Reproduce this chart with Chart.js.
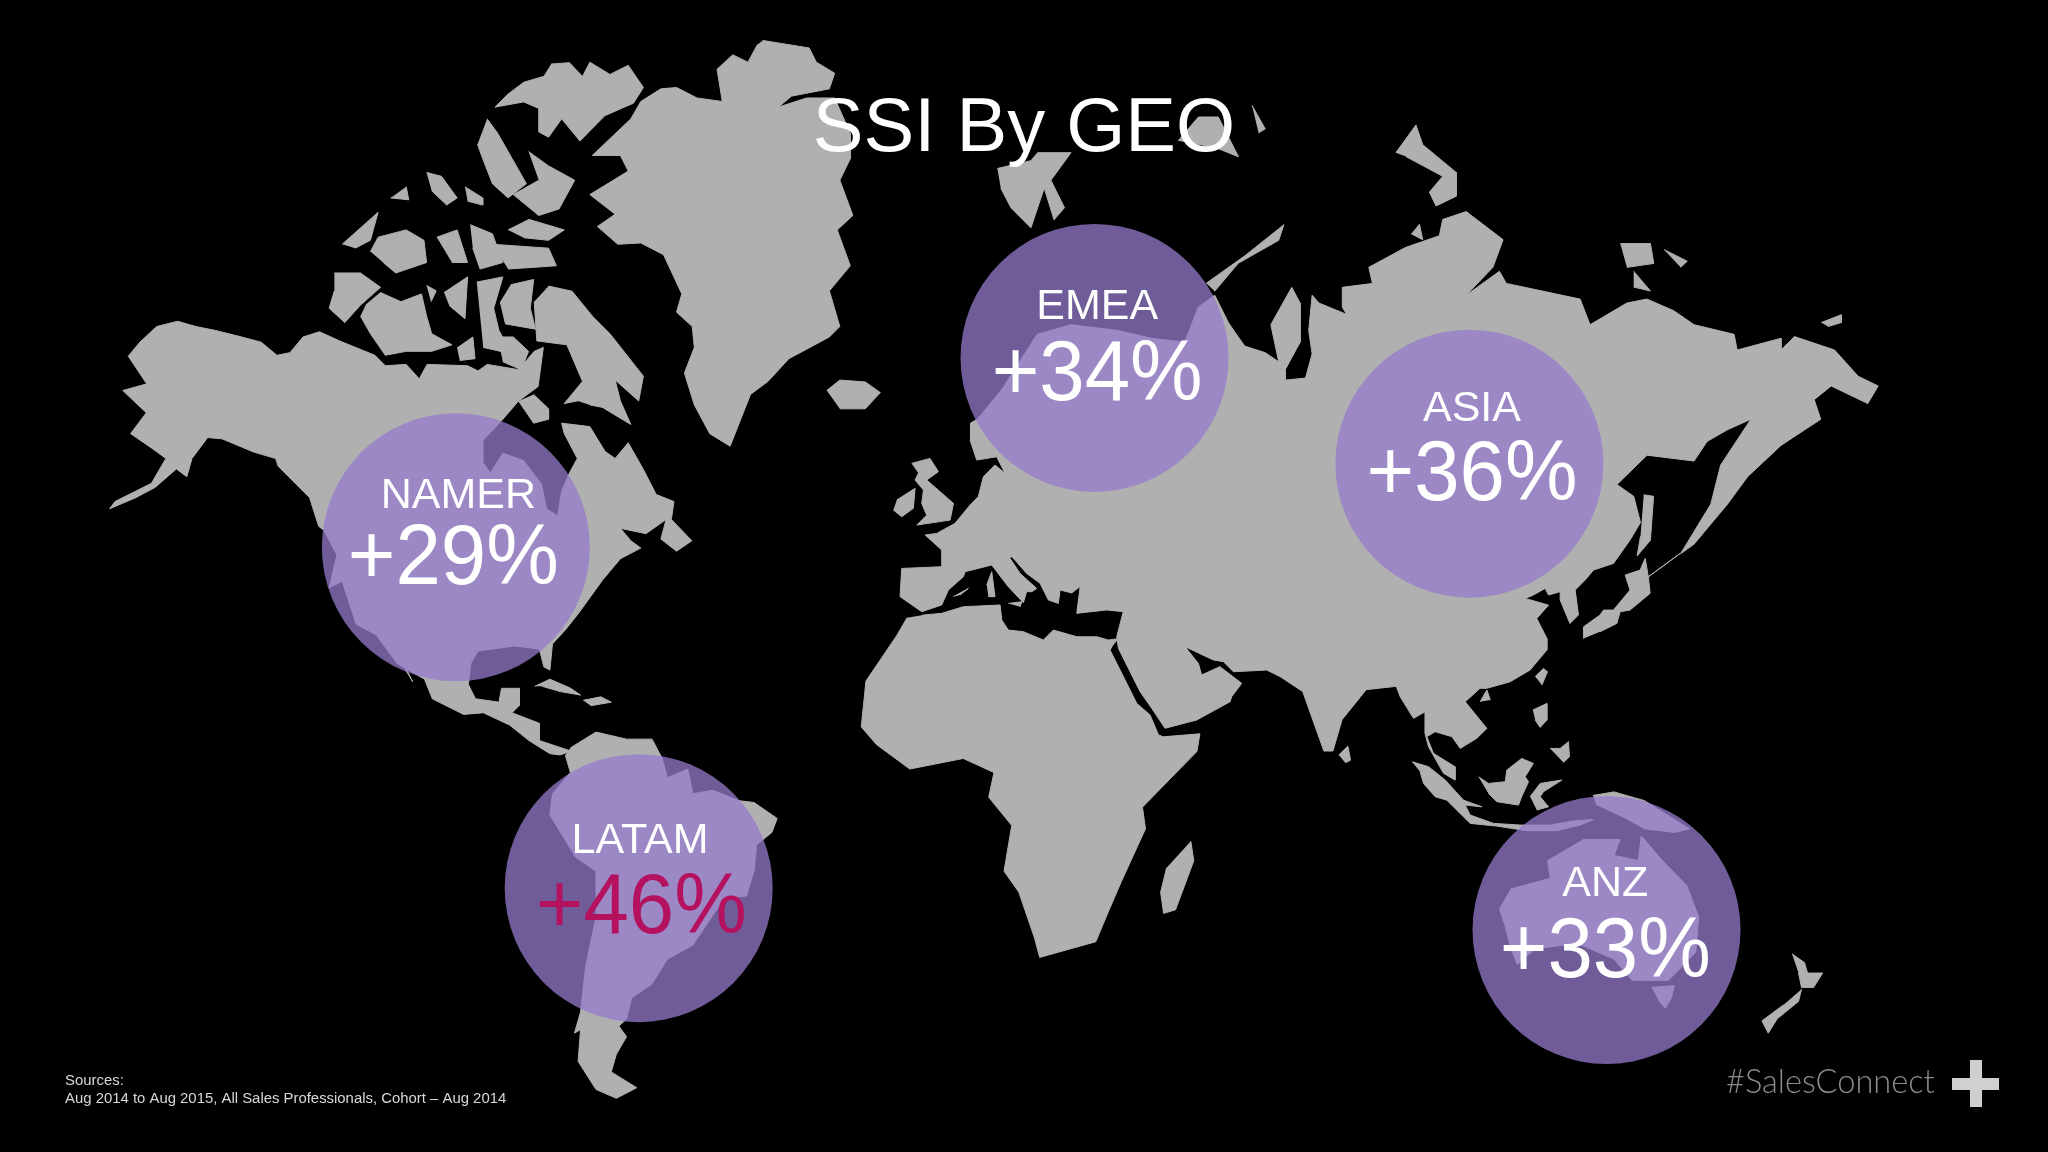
<!DOCTYPE html>
<html>
<head>
<meta charset="utf-8">
<title>SSI By GEO</title>
<style>
  html, body { margin: 0; background: #000; }
  canvas { display: block; }
</style>
</head>
<body>
<canvas id="grafico" width="2048" height="1152"></canvas>
<script src="https://cdn.jsdelivr.net/npm/chart.js@4"></script>
<script>
const regionNames = ['NAMER', 'EMEA', 'ASIA', 'LATAM', 'ANZ'];
const regionGains = [29, 34, 36, 46, 33];
const regionX = [349, 838, 1125, 489, 1230];
const regionY = [419, 274, 355, 680, 712];

// coastlines on a 1568 x 882 grid
const northAmerica = [[98,273],[107,262],[120,250],[136,246],[150,250],[165,253],[185,258],[200,262],[212,272],[222,270],[232,258],[244.6,254],[260,261],[287,272],[295,280],[311,279],[321,290],[327,279],[358,280],[366,284],[373,279],[397,283],[409,269],[416,266],[412,296],[397,307],[385,321],[369.6,337.5],[369.6,354],[375.4,362],[385,347],[400.8,352.6],[414.5,370.3],[418.4,389.5],[427,395],[430,376],[436,362],[442,351],[432,332],[430,324],[451.6,326.6],[463.3,345.7],[471,351],[481,339],[492.6,359.4],[502.4,378.6],[516,384],[514,397.7],[529.7,414],[518,422],[506,412.7],[510,397.7],[494.6,408.6],[475,404.5],[483,414],[490.6,419.6],[475,427.8],[461.4,444],[442.6,470],[432.8,482.3],[423,493],[421,513],[416.4,510.6],[413,497],[394,494.5],[366,498.5],[360.5,508],[358.6,524],[364,535],[382,537.6],[384,527],[397.7,527],[397.7,540],[392,545.7],[413,553.8],[413,567],[437,575],[429,578],[421,577],[405,567],[390,555],[370,545.7],[355,547],[331,535],[325,520],[304,508],[288,486],[272.7,478],[262,445],[252,450],[258,425],[248,406],[244,403],[237,381],[213,357],[211,351],[194,346],[170,336],[159,335],[147,351],[143,365],[135,359],[119,373],[104,381],[84,389.5],[88,384],[116,370],[127,351],[116,343],[100,332],[112,316],[94,299],[112,294]];
const baja = [[296,490.4],[300,490],[316,522],[310,512]];
const southAmerica = [[436.7,572.6],[456.3,560.5],[479.7,565.9],[499.2,565.9],[507,580.7],[511,595.5],[526.6,588.8],[530.5,607.7],[546,605],[565.6,613],[577.3,614.4],[595,626.6],[591,637.3],[579.3,646.8],[577.3,667],[571.5,685.9],[553.9,688.6],[530.5,723.6],[511,734.4],[499.2,753.3],[483.6,764],[479.7,780.2],[473.8,785.6],[479.7,793.7],[471.9,807.2],[468,820.7],[487.5,832.8],[471.9,840.9],[456.3,834.1],[442.6,812.6],[444.5,788.3],[439.8,791],[444.5,774.8],[448.4,739.8],[456.3,702],[456.3,667],[440.6,656.2],[421,623.9],[423,607.7],[436.7,591.5],[432.8,578]];
const cuba = [[409.4,525.5],[421,520],[436.7,526.8],[444.5,532.2],[429,529.5],[415.2,525.5]];
const hispaniola = [[446.5,536.2],[460,533.5],[468,537.6],[452.3,540.3]];
const greenland = [[584,31],[619.5,36.7],[625,47.6],[639,56],[635,68],[606,73.6],[596,82],[617.6,75],[639,75],[651,102],[651,121.5],[643,138],[653,165],[641,176],[651,203.5],[635,222.7],[643,250],[635,258],[604,274.6],[588,292],[574.6,302],[559,341.6],[543.4,332],[531.6,310],[524,285.6],[531.6,266],[530,250],[518,239],[522,225],[508,195],[490.6,186],[473,187],[457.4,173.4],[471,164],[451.6,149],[481,131],[475,119],[453.5,119],[483,91],[490.6,77.7],[506,68],[518,67],[533.6,75],[553,77.7],[549,53],[561,42],[572.6,47.6],[580,34]];
const iceland = [[633,299],[643,291],[662.5,292.4],[674,300.6],[662.5,313],[643,313]];
const baffin = [[420,219],[438,223],[453.5,242],[467,255.5],[492.6,288],[489,307],[471,291],[475,307],[483,325],[463,313],[451.6,305],[432,309],[446,292],[434,264],[411,261],[409,231]];
const ellesmere = [[422,49],[436,48],[446,58.5],[451.6,47.6],[467,57],[481,50],[492.6,67],[485,79],[463,88.6],[444,108],[430,91],[420,105],[412.5,101],[412.5,83],[401,78],[379,82],[389,72],[401,63],[416,58.5]];
const axelHeiberg = [[373,91],[381,102],[389,116],[403,140.6],[389,151.5],[377,140.6],[369.6,121.5],[365.6,110.5]];
const devon = [[404.7,116],[420,127],[440,138],[428,160],[412.5,165],[393,149],[412.5,138]];
const arcticA = [[389,176],[405,168],[432,176],[420,184],[401,182]];
const arcticB = [[377,187],[420,190],[426,203.5],[389,206]];
const arcticC = [[326.6,132],[338,135],[350,151.5],[342,157],[330.5,146]];
const arcticD = [[356,143],[369.6,151.5],[369.6,157],[358,154]];
const arcticE = [[311,143],[313,153],[299,151.5]];
const arcticF = [[262,187],[289.5,162.5],[283.6,184],[272,190]];
const arcticG = [[283.6,192.6],[289.5,181.6],[311,176],[324.6,184],[326.6,201],[303,209],[293.4,201]];
const arcticH = [[334.4,181.6],[350,176],[358,201],[346,201]];
const arcticI = [[360,172],[377,179],[385,201],[367.6,206],[362,190]];
const banks = [[256,209],[276,209],[291.4,220],[276,233.6],[264,247],[252,236],[256,222.7]];
const victoria = [[280,233.6],[291.4,224],[307,231],[322.7,225],[326.6,242],[330.5,255.5],[346,264],[330.5,269],[311,269],[295,272],[283.6,255.5],[276,242]];
const arcticJ = [[326.6,218.5],[334,222.7],[330,231]];
const arcticK = [[340,224],[358,212],[356,244],[344,234]];
const arcticL = [[365,216],[385,212],[378,236],[382,253],[392,271],[370,266]];
const arcticM = [[391,218],[408.6,214],[406,236],[410,252],[387,248],[383,231]];
const arcticN = [[436,305],[451.6,291],[461,296.5],[467,313],[451.6,310]];
const southampton = [[408.6,302],[420,313],[420,321],[408.6,324],[397,307]];
const boothia = [[350,266.4],[362,258],[363.7,274.6],[352,276]];
const melville = [[381,258],[393,258],[404.7,269],[399,283],[385,277]];
const eurasia = [[768.7,295.5],[794,256],[820,248.6],[856,253],[881.6,259],[907,262],[917.5,235],[930,226],[940.5,247],[945.7,254.6],[953,265],[968.7,270],[979,277],[973,248.6],[989,220],[995.4,232],[995.4,262],[984,283],[984,291],[999.5,289.5],[1004.6,271],[1002,253],[1004.6,226],[1009.8,232],[1035.4,242.5],[1039,254.6],[1027.7,235],[1027.7,220],[1050.8,217],[1048,204.7],[1076,189.5],[1102,180.5],[1104.6,168],[1122.6,162],[1150.8,183.5],[1143,204.7],[1122.6,226],[1148,207.7],[1153.3,217],[1209.8,229],[1217.4,248.6],[1245.6,232],[1261,229],[1281.6,238],[1297,248.6],[1327.7,256],[1330,268],[1363.6,259],[1363.6,268],[1373.9,257.7],[1404.6,268],[1422.6,288],[1438,295.5],[1430,309],[1402,295.5],[1389,306],[1394,321],[1363.6,341],[1338,365],[1322.6,386],[1297,416.6],[1286.7,424],[1309.8,386],[1317.4,356],[1340.5,321],[1322.6,329],[1307,338],[1297,353],[1261,348.5],[1238,371],[1250.8,380],[1256,400],[1248,413.5],[1235.3,431.4],[1220,436.5],[1213.6,444.1],[1206,451.8],[1208.5,470.9],[1202,477.3],[1194.5,459.4],[1194.5,453],[1185.6,455.6],[1183,450.5],[1174,455.6],[1167.7,458.2],[1176.6,460.7],[1185.6,463.3],[1176.6,473.5],[1184.3,488.8],[1184.3,497.7],[1171.5,513],[1156.2,522],[1138.4,527],[1133.2,527],[1121.8,537.3],[1138.4,557.7],[1130.7,565.3],[1118,573],[1111.6,564],[1098.8,560.2],[1092.4,564],[1097.5,576.8],[1114,587],[1114,597.2],[1105.2,592.1],[1093.7,571.7],[1091,561.5],[1091,545],[1082.2,550],[1072,533.4],[1069,525.5],[1046,528],[1027.5,551],[1020.5,575],[1013.6,575],[997.4,529.5],[980,518],[969.8,513],[944.3,514.3],[936.7,506.6],[929,505.3],[907.3,495.1],[917.5,507.9],[920,516.8],[934,510.4],[950.7,523.2],[943,533.4],[941.8,537.2],[916.2,551.3],[892,557.6],[881.8,542.3],[872.9,529.6],[856.3,496.4],[855,487.5],[860,468.3],[847.3,467],[824.4,469.6],[827,449],[820.5,454],[811.6,451.7],[810.3,462],[802.7,459.4],[796.3,446.6],[786,439],[774.6,426],[773.3,427.5],[781,439],[793.7,450.5],[790,453],[786,453],[783.5,461.4],[772,449.2],[759.3,432.6],[738.9,437.7],[737.6,441.5],[726.1,451.7],[721,463.2],[705.7,468.3],[689.1,456.8],[690.4,435.2],[721,433.9],[721,421.1],[708.3,409.6],[717.2,408.4],[731.2,400.7],[742.7,386.7],[749,380.3],[752.9,365],[761.8,356],[769.5,362.4],[763.1,349.7],[747.8,352.2],[742.7,336.9],[743,324],[748,321]];
const africa = [[705.7,471],[721,469.6],[737.6,464.5],[765.7,463.2],[767,474.7],[772,482.4],[783.5,483.6],[798.8,490],[806.5,482.4],[824.4,487.5],[839.7,487.5],[848.6,490],[856,489],[852,494],[849.9,497.7],[861.4,520.6],[870.3,538.5],[880.5,547.4],[887,562.7],[890.7,564.1],[918.7,561.8],[916.4,575.3],[874.7,618],[877,634.6],[858.5,675],[849.2,696.6],[842.3,713],[839,721],[796,733],[792,718],[780,683],[768.7,667],[774.6,632],[757,610.4],[761,591.5],[737.5,580.7],[696.5,588.8],[671,570],[659.4,556.5],[663,521.4],[686.7,486.4],[694.5,472.9]];
const madagascar = [[911.7,644],[914,659],[900,696.6],[890.9,699.3],[888.6,683.2],[893.2,664.3]];
const britain = [[698,354.8],[712,351],[718.5,361.1],[709.5,367.5],[730,385.4],[727.4,398.2],[701.9,402],[709.5,394.4],[705.7,385.4],[707,375.2],[700.6,367.5],[703.1,362.4]];
const ireland = [[686.6,382.8],[700.6,373.9],[699.3,389.2],[690.4,395.6],[684,390.5]];
const corsica = [[755.5,447.9],[759.3,437.7],[761.8,456.8],[756.7,456.8]];
const balearic = [[730,456.8],[741.4,450.5],[735,455.6]];
const sicily = [[772,462],[782.3,460.7],[781,464.5]];
const svalbard = [[763.6,129],[789.3,123],[794.4,116.9],[820,116.9],[804.6,138],[815,159],[807,168.3],[799.5,144],[789.3,174.4],[774,159],[766.2,144]];
const franzJosef = [[902,107.8],[917.5,89.6],[932.8,89.6],[948.2,120],[932.8,113.8]];
const franzJosefEast = [[958.5,80.5],[968.7,98.7],[963.6,101.7]];
const novayaZemlya = [[923.6,216.8],[953.4,195.6],[983,172],[979,184],[948,201.6],[930,223]];
const severnaya = [[1068.7,116.9],[1084.1,95.7],[1089.3,110.8],[1114.9,132],[1114.9,150.2],[1099.5,157.7],[1094.4,147.1],[1104.6,135],[1076.4,119.9]];
const taimyrIsle = [[1086.7,171.4],[1089.3,183.5],[1080.5,179]];
const newSiberianA = [[1240.5,186.5],[1263.6,186.5],[1266.2,201.7],[1245.6,204.7]];
const newSiberianB = [[1273.9,191],[1291.8,200],[1286.7,204.7]];
const newSiberianC = [[1250.8,207.7],[1263.6,222.8],[1250.8,219.8]];
const wrangel = [[1394.4,247],[1409.7,241],[1409.7,247],[1399.5,250]];
const sakhalin = [[1258.5,378.8],[1266,380],[1263.6,413.6],[1253.4,425.7],[1256,410.6]];
const japan = [[1212.4,488.8],[1212.4,479.9],[1225,470.9],[1227.7,467.1],[1235.3,467.1],[1248,451.8],[1244.3,440.3],[1255.7,436.5],[1259.6,427.5],[1262,441.6],[1286.4,423.7],[1262,441.6],[1263.4,454.3],[1248,467.1],[1240.4,468.4],[1237.9,477.3],[1225,483.7]];
const taiwan = [[1175.4,518],[1181.7,511.8],[1184.8,514.3],[1180.5,524.5]];
const luzon = [[1173.6,543.6],[1184.3,538.6],[1184.3,551.3],[1179.2,556.9],[1175.4,551.3]];
const mindanao = [[1186.8,573],[1194.5,573],[1200.9,567.9],[1201.6,579.4],[1197,583.7]];
const hainan = [[1133.2,537.3],[1138.4,528.3],[1141,536]];
const sriLanka = [[1025,578],[1032,571.3],[1034,582],[1030,584]];
const sumatraJava = [[1081,583.2],[1093.7,587],[1106.5,597.2],[1120.5,612.6],[1134.5,617.7],[1121.8,616.4],[1125.6,624],[1143.5,630.4],[1163.9,631.7],[1186.8,631.7],[1204.7,628.6],[1220,627.4],[1209.8,631.7],[1192,636],[1169,636],[1146,632.5],[1125.6,630.4],[1107.7,612.6],[1098.8,610],[1089.9,599.8],[1087.3,590.9]];
const borneo = [[1132,594.7],[1139.6,599.8],[1152.4,598.5],[1153.7,589.6],[1165,580.7],[1174,584.5],[1167.7,594.7],[1170.3,598.5],[1165,610],[1162.6,616.4],[1146,613.8],[1139.6,607.5]];
const sulawesi = [[1171.5,610],[1179.2,599.8],[1195.8,597.2],[1181.7,606.2],[1179.2,610],[1185.6,617.7],[1176.6,620.2]];
const newGuinea = [[1219.6,609],[1235.8,606.3],[1259,613],[1293.6,634.6],[1282,637.3],[1259,634.6],[1245,626.6],[1222,615.8]];
const australia = [[1147.8,696.6],[1157,680.5],[1187,672.4],[1184.9,658.9],[1198.7,650.8],[1212.6,642.7],[1240.4,642.7],[1235.8,654.9],[1254.3,658.9],[1256.6,640],[1272.8,658.9],[1291.3,677.8],[1300.6,702],[1298.3,729],[1277.4,750.6],[1249.7,750.6],[1235.8,734.4],[1208,722.3],[1175.6,726.3],[1161.7,738.4],[1157,726.3],[1152.4,710]];
const tasmania = [[1264.5,756],[1282,754.6],[1279.7,764],[1275,772],[1270.5,766.7]];
const newZealandNorth = [[1372,730.3],[1381.6,737],[1383.9,745],[1395.5,745],[1388.5,756],[1379.3,756],[1377,745]];
const newZealandSouth = [[1379.3,757.3],[1377,766.7],[1360.7,780],[1353.8,791],[1349,781.6],[1365.4,769.4]];

const landShapes = [northAmerica, baja, southAmerica, cuba, hispaniola, greenland, iceland, baffin, ellesmere,
    axelHeiberg, devon, arcticA, arcticB, arcticC, arcticD, arcticE, arcticF, arcticG, arcticH, arcticI, banks,
    victoria, arcticJ, arcticK, arcticL, arcticM, arcticN, southampton, boothia, melville, eurasia, africa,
    madagascar, britain, ireland, corsica, balearic, sicily, svalbard, franzJosef, franzJosefEast, novayaZemlya,
    severnaya, taimyrIsle, newSiberianA, newSiberianB, newSiberianC, wrangel, sakhalin, japan, taiwan, luzon,
    mindanao, hainan, sriLanka, sumatraJava, borneo, sulawesi, newGuinea, australia, tasmania, newZealandNorth,
    newZealandSouth];

const landDatasets = landShapes.map(shape => ({
    type: 'line',
    data: shape.map(([x, y]) => ({x, y})),
    fill: 'shape',
    backgroundColor: '#b1b0b1',
    borderColor: '#b1b0b1',
    borderWidth: 1,
    pointRadius: 0,
    tension: 0,
    order: 2
}));

const regionDataset = {
    type: 'bubble',
    data: regionNames.map((name, i) => ({x: regionX[i], y: regionY[i]})),
    radius: 134,
    backgroundColor: 'rgba(148, 123, 204, 0.75)',
    borderWidth: 0,
    order: 1
};

const slideText = {
    id: 'slideText',
    afterDraw(chart) {
        const {ctx, scales} = chart;
        // text sits a little off each circle's centre in the slide
        const labelDx = [2, 2, 2, 1, -1];
        const labelDy = [-30, -30, -33, -27, -26];
        const gainDx = [-2, 2, 2, 2, -1];
        const gainDy = [28, 32, 28, 34, 36];

        ctx.save();
        ctx.textAlign = 'center';
        regionNames.forEach((name, i) => {
            ctx.fillStyle = '#ffffff';
            ctx.font = '43px "Liberation Sans"';
            ctx.fillText(name,
                scales.x.getPixelForValue(regionX[i] + labelDx[i]),
                scales.y.getPixelForValue(regionY[i] + labelDy[i]));

            ctx.save();
            ctx.translate(scales.x.getPixelForValue(regionX[i] + gainDx[i]), scales.y.getPixelForValue(regionY[i] + gainDy[i]));
            ctx.scale(0.96, 1);
            ctx.fillStyle = name === 'LATAM' ? '#b4125f' : '#ffffff';
            ctx.font = '85px "Liberation Sans"';
            ctx.fillText('+' + regionGains[i] + '%', 0, 0);
            ctx.restore();
        });

        ctx.fillStyle = '#ffffff';
        ctx.font = '76px "Liberation Sans"';
        ctx.fillText('SSI By GEO', 1024, 151);

        ctx.textAlign = 'left';
        ctx.fillStyle = '#d8d8d8';
        ctx.font = '14.9px "Liberation Sans"';
        ctx.fillText('Sources:', 65, 1085);
        ctx.fillText('Aug 2014 to Aug 2015, All Sales Professionals, Cohort \u2013 Aug 2014', 65, 1103);

        ctx.fillStyle = '#8c8c8c';
        ctx.font = '300 32.6px Lato';
        ctx.fillText('#SalesConnect', 1726, 1093);

        ctx.fillStyle = '#cfd0d2';
        ctx.fillRect(1970, 1060, 12, 47);
        ctx.fillRect(1952, 1078, 47, 12);
        ctx.restore();
    }
};

new Chart(document.querySelector('#grafico'), {
    data: {datasets: [regionDataset, ...landDatasets]},
    plugins: [slideText],
    options: {
        responsive: false,
        animation: false,
        layout: {padding: 0, autoPadding: false},
        plugins: {legend: {display: false}, tooltip: {enabled: false}, title: {display: false}},
        scales: {
            x: {type: 'linear', min: 0, max: 1568, display: false},
            y: {type: 'linear', min: 0, max: 882, reverse: true, display: false}
        }
    }
});
</script>
</body>
</html>
